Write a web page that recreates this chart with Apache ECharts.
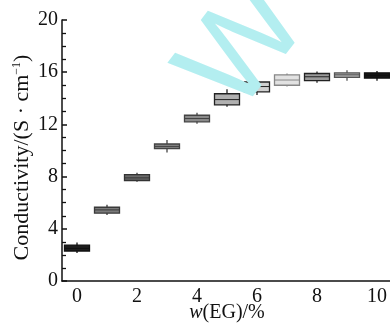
<!DOCTYPE html>
<html>
<head>
<meta charset="utf-8">
<script src="https://cdn.jsdelivr.net/npm/echarts@6/dist/echarts.min.js"></script>
<style>
  html, body { margin: 0; padding: 0; background: #fff; }
  #main { width: 390px; height: 327px; }
</style>
</head>
<body>
<div id="main"></div>
<script>
var categories = ['0', '1', '2', '3', '4', '5', '6', '7', '8', '9', '10'];
var minVals = [2.15, 5.05, 7.6, 9.85, 12.05, 13.35, 14.25, 14.9, 15.2, 15.35, 15.35];
var q1Vals  = [2.3, 5.2, 7.7, 10.15, 12.2, 13.5, 14.5, 15.0, 15.35, 15.6, 15.55];
var medVals = [2.5, 5.45, 7.9, 10.3, 12.45, 13.9, 14.9, 15.4, 15.65, 15.8, 15.75];
var q3Vals  = [2.75, 5.65, 8.15, 10.5, 12.7, 14.35, 15.25, 15.8, 15.9, 15.95, 15.95];
var maxVals = [2.95, 5.85, 8.3, 10.8, 12.9, 14.7, 15.35, 15.9, 16.05, 16.15, 16.1];

var fills   = ['#1e1e1e', '#7a7a7a', '#6a6a6a', '#808080', '#8a8a8a', '#b0b0b0',
               '#d0d0d0', '#e2e2e2', '#9a9a9a', '#aaaaaa', '#151515'];
var strokes = ['#111', '#3a3a3a', '#333', '#444', '#444', '#222',
               '#222', '#888', '#222', '#555', '#111'];

var serif = '"Liberation Serif", "DejaVu Serif", serif';

var boxData = categories.map(function (c, i) {
    return [i, minVals[i], q1Vals[i], medVals[i], q3Vals[i], maxVals[i]];
});

var myChart = echarts.init(document.getElementById('main'), null, { renderer: 'canvas' });

function renderBox(params, api) {
    var i = params.dataIndex;
    var x = api.value(0);
    var pMin = api.coord([x, api.value(1)]);
    var pQ1 = api.coord([x, api.value(2)]);
    var pMed = api.coord([x, api.value(3)]);
    var pQ3 = api.coord([x, api.value(4)]);
    var pMax = api.coord([x, api.value(5)]);
    var half = 12.5;
    var stroke = strokes[i];
    return {
        type: 'group',
        children: [
            {
                type: 'line',
                shape: { x1: pMin[0], y1: pMin[1], x2: pMax[0], y2: pMax[1] },
                style: { stroke: stroke, lineWidth: 1.3 }
            },
            {
                type: 'rect',
                shape: { x: pQ3[0] - half, y: pQ3[1], width: half * 2, height: pQ1[1] - pQ3[1] },
                style: { fill: fills[i], stroke: stroke, lineWidth: 1.3 }
            },
            {
                type: 'line',
                shape: { x1: pMed[0] - half, y1: pMed[1], x2: pMed[0] + half, y2: pMed[1] },
                style: { stroke: stroke, lineWidth: 1 }
            }
        ]
    };
}

var option = {
    animation: false,
    grid: { left: 62, right: -2, top: 20, bottom: 46, outerBoundsMode: 'none', containLabel: false },
    xAxis: {
        type: 'category',
        data: categories,
        boundaryGap: true,
        name: '{i|w}(EG)/%',
        nameLocation: 'middle',
        nameGap: 22,
        nameMoveOverlap: false,
        nameTextStyle: {
            fontFamily: serif, fontSize: 20, color: '#111',
            rich: { i: { fontFamily: serif, fontSize: 20, fontStyle: 'italic', color: '#111' } }
        },
        axisLine: { lineStyle: { color: '#111', width: 1.5 } },
        axisTick: { inside: true, length: 4, alignWithLabel: true, interval: 0,
                    lineStyle: { color: '#111', width: 1.5 } },
        axisLabel: { interval: 1, margin: 6, fontFamily: serif, fontSize: 20, color: '#111' },
        splitLine: { show: false }
    },
    yAxis: {
        type: 'value',
        min: 0,
        max: 20,
        interval: 4,
        name: 'Conductivity/(S · cm{sup|−1})',
        nameLocation: 'middle',
        nameRotate: 90,
        nameGap: 29,
        nameMoveOverlap: false,
        nameTextStyle: {
            fontFamily: serif, fontSize: 22, color: '#111',
            padding: [0, 14, 0, 0],
            rich: { sup: { fontFamily: serif, fontSize: 12, color: '#111', verticalAlign: 'top' } }
        },
        axisLine: { show: true, lineStyle: { color: '#111', width: 1.5 } },
        axisTick: { show: true, inside: true, length: 5, lineStyle: { color: '#111', width: 1.5 } },
        minorTick: { show: true, splitNumber: 4, length: 4, lineStyle: { color: '#111', width: 1.3 } },
        axisLabel: { margin: 4, fontFamily: serif, fontSize: 20, color: '#111' },
        splitLine: { show: false }
    },
    graphic: [{
        type: 'text',
        x: 246,
        y: 48,
        rotation: 52 * Math.PI / 180,
        z: 100,
        silent: true,
        style: {
            text: 'W',
            font: '128px "Liberation Sans", sans-serif',
            fill: '#b3eef0',
            align: 'center',
            verticalAlign: 'middle',
            blend: 'multiply'
        }
    }],
    series: [{
        type: 'custom',
        renderItem: renderBox,
        encode: { x: 0, y: [1, 2, 3, 4, 5] },
        data: boxData
    }]
};
myChart.setOption(option);
</script>
</body>
</html>
